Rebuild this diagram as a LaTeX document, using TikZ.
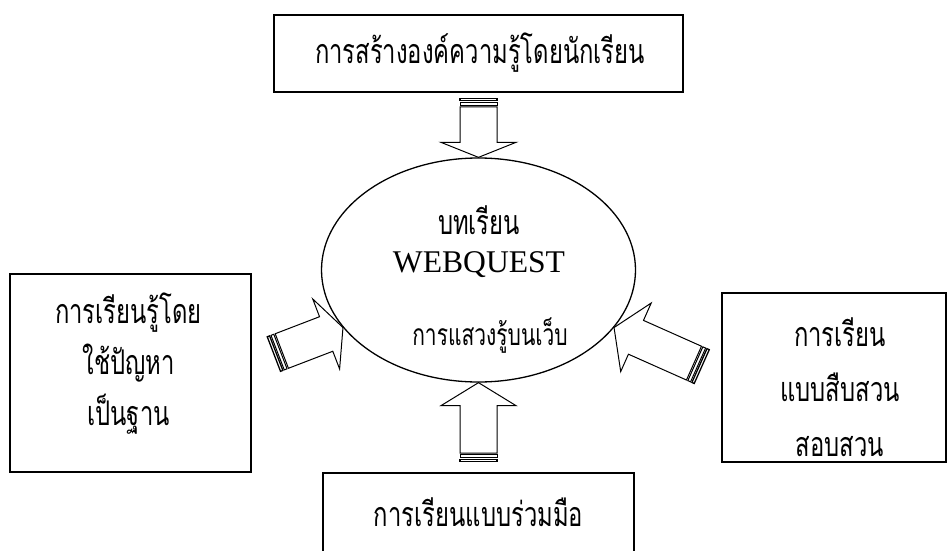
\documentclass[tikz,border=0pt]{standalone}
\usepackage{fontspec}
\usetikzlibrary{shapes.geometric}
\newfontfamily\thaifont[Script=Thai, FakeStretch=0.7]{Loma}
\newfontfamily\tmsfont{Liberation Serif}
\newcommand\stripedarrow[4]{%
  \begin{scope}[shift={#1}, rotate=#2]
    \draw[blk] (0,0) -- (-#4,37.5) -- (-#4,18.5) -- ({-#3+8.5},18.5) -- ({-#3+8.5},-18.5) -- (-#4,-18.5) -- (-#4,-37.5) -- cycle;
    \draw[blk, line width=1.3pt] (-#3,-18.5) rectangle ({-#3+2.5},18.5);
    \draw[blk] ({-#3+4},-18.5) rectangle ({-#3+7},18.5);
  \end{scope}}
\begin{document}
\begin{tikzpicture}[x=1pt,y=1pt,
  box/.style={draw, line width=1.5pt, inner sep=0, rectangle},
  thtext/.style={font={\thaifont\fontsize{34}{51}\selectfont}, align=center, inner sep=0},
  blk/.style={draw, line width=1pt, line join=miter}]
\useasboundingbox (0,0) rectangle (952,550);
\clip (0,0) rectangle (952,550);
\fill[white] (0,0) rectangle (952,550);
% boxes
\node[box, minimum width=409, minimum height=77] (top) at (478.5,496.5) {};
\node[thtext] (toptext) at (480,497) {การสร้างองค์ความรู้โดยนักเรียน};
\node[box, minimum width=241, minimum height=198] (left) at (130.5,177) {};
\node[thtext] (lefttext) at (128.5,186) {การเรียนรู้โดย\\ใช้ปัญหา\\เป็นฐาน};
\node[box, minimum width=224, minimum height=169] (right) at (834,172.5) {};
\node[thtext, font={\thaifont\fontsize{34}{55}\selectfont}] (righttext) at (840,162.5) {การเรียน\\แบบสืบสวน\\สอบสวน};
\node[box, minimum width=311, minimum height=120, anchor=north] (bottom) at (478.5,78) {};
\node[thtext] (bottomtext) at (478.5,38) {การเรียนแบบร่วมมือ};
% ellipse
\node[draw, ellipse, line width=1.3pt, minimum width=314, minimum height=224, inner sep=0] (web) at (478.5,280) {};
\node[thtext] (t1) at (479,330) {บทเรียน};
\node[inner sep=0, font={\tmsfont\fontsize{31.6}{36}\selectfont}] (t2) at (479,285) {WEBQUEST};
\node[thtext, font={\thaifont\fontsize{30}{34}\selectfont}] (t3) at (490,214) {การแสวงรู้บนเว็บ};
% arrows
\stripedarrow{(web.north)}{-90}{59}{15}
\stripedarrow{(web.south)}{90}{79}{23}
\stripedarrow{(web.203)}{21}{74}{18}
\stripedarrow{(web.337)}{156}{96}{24}
\end{tikzpicture}
\end{document}
